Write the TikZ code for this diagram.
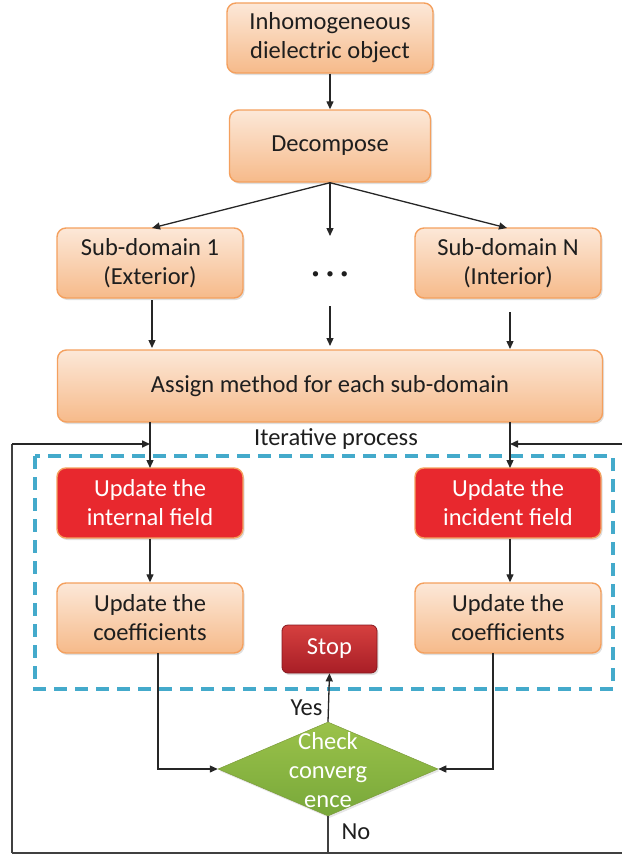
\documentclass[tikz,border=0pt]{standalone}
\usepackage{fontspec}
\setmainfont{Carlito}
\usetikzlibrary{shapes.geometric,arrows.meta,shadows,calc}
\definecolor{txt}{HTML}{1E1E1E}
\definecolor{obord}{HTML}{F4A05E}
\definecolor{otop}{HTML}{FCE8D8}
\definecolor{obot}{HTML}{F6BA8A}
\definecolor{redf}{HTML}{E8282E}
\definecolor{stoptop}{HTML}{D6403F}
\definecolor{stopbot}{HTML}{A81E26}
\definecolor{gtop}{HTML}{9BC24A}
\definecolor{gbot}{HTML}{78A83A}
\definecolor{dashc}{HTML}{44AACB}
\begin{document}
\begin{tikzpicture}[x=1pt,y=-1pt,
  every node/.style={font=\fontsize{24.5}{29}\selectfont, text=txt},
  obox/.style={draw=obord, line width=1.4pt, rounded corners=9pt, top color=otop, bottom color=obot,
    align=center, minimum width=186pt, minimum height=70pt, inner sep=0pt,
    drop shadow={shadow xshift=1.5pt, shadow yshift=-2pt, opacity=0.25}},
  rbox/.style={draw=obord, line width=1.4pt, rounded corners=9pt, fill=redf, text=white,
    align=center, minimum width=186pt, minimum height=70pt, inner sep=0pt,
    drop shadow={shadow xshift=1.5pt, shadow yshift=-2pt, opacity=0.25}},
  arr/.style={draw=black!85, line width=1.3pt, -{Triangle[length=8pt,width=7pt]}},
  ln/.style={draw=black!75, line width=1.6pt},
]
\useasboundingbox (0,0) rectangle (622,859);

% nodes
\node[obox, minimum width=206pt] (b1) at (330,38) {Inhomogeneous\\dielectric object};
\node[obox, minimum width=201pt, minimum height=72pt] (b2) at (330,146) {Decompose};
\node[obox] (s1) at (150,263) {Sub-domain 1\\(Exterior)};
\node[obox] (sn) at (508,263) {Sub-domain N\\(Interior)};
\node[font=\fontsize{15}{18}\selectfont] (dots) at (330,275) {\textbullet\hspace{7pt}\textbullet\hspace{7pt}\textbullet};
\node[obox, minimum width=545pt, minimum height=72pt] (as) at (330,386) {Assign method for each sub-domain};
\node (it) at (336,439) {Iterative process};

\draw[dashc, line width=3.2pt, dash pattern=on 13pt off 8pt] (35,456) rectangle (613,689);

\node[rbox] (r1) at (150,503) {Update the\\internal field};
\node[rbox] (r2) at (508,503) {Update the\\incident field};
\node[obox] (c1) at (150,618) {Update the\\coefficients};
\node[obox] (c2) at (508,618) {Update the\\coefficients};
\node[draw=stopbot!80!black, line width=0.8pt, rounded corners=6pt, top color=stoptop, bottom color=stopbot,
  text=white, minimum width=95pt, minimum height=48pt, inner sep=0pt,
  drop shadow={shadow xshift=1.5pt, shadow yshift=-2pt, opacity=0.25}] (stop) at (329.5,649) {Stop};
\node[diamond, draw=gtop!80!black, line width=0.5pt, top color=gtop, bottom color=gbot, aspect=2.34,
  minimum width=220pt, minimum height=94pt, inner sep=0pt,
  drop shadow={shadow xshift=1.5pt, shadow yshift=-2pt, opacity=0.2}] (dm) at (328,769) {};
\node[text=white, align=center] (dmt) at (328,770) {Check\\converg\\ence};

% coordinates
\coordinate (m1) at (330,236);
\coordinate (m2) at (330,306);
\coordinate (m3) at (330,346);
\coordinate (sl1) at (152,300);
\coordinate (sl2) at (152,348);
\coordinate (sr1) at (510,312);
\coordinate (sr2) at (510,349);
\coordinate (al) at (150,422);
\coordinate (ar) at (510,422);
\coordinate (rl) at (150,468);
\coordinate (rr) at (510,468);
\coordinate (fl) at (150,444);
\coordinate (fr) at (510,444);
\coordinate (bl) at (12,853);
\coordinate (br) at (622,853);
\coordinate (bm) at (328,853);
\coordinate (tl) at (12,444);
\coordinate (tr) at (622,444);
\coordinate (c1b) at (158,653);
\coordinate (c2b) at (493,653);

% connectors
\draw[arr] (b1.south) -- (b2.north);
\draw[arr] (b2.south) -- (152,228);
\draw[arr] (b2.south) -- (m1);
\draw[arr] (b2.south) -- (507,228);
\draw[arr] (sl1) -- (sl2);
\draw[arr] (m2) -- (m3);
\draw[arr] (sr1) -- (sr2);
\draw[arr] (al) -- (rl);
\draw[arr] (ar) -- (rr);
\draw[arr] (r1.south) -- (c1.north);
\draw[arr] (r2.south -| rr) -- (c2.north -| rr);
\draw[ln] (bl) -- (tl);
\draw[arr, line width=1.6pt] (tl) -- (fl);
\draw[arr, line width=1.6pt] (tr) -- (fr);
\draw[ln] (bl) -- (br);
\draw[arr] (c1b) |- (dm.west);
\draw[arr] (c2b) |- (dm.east);
\draw[arr] (dm.north) -- (stop.south);
\draw[ln, line width=1.3pt] (dm.south) -- (bm);

\node[anchor=east] (yes) at (326,708) {Yes};
\node[anchor=west] (no) at (338,832) {No};
\end{tikzpicture}
\end{document}
